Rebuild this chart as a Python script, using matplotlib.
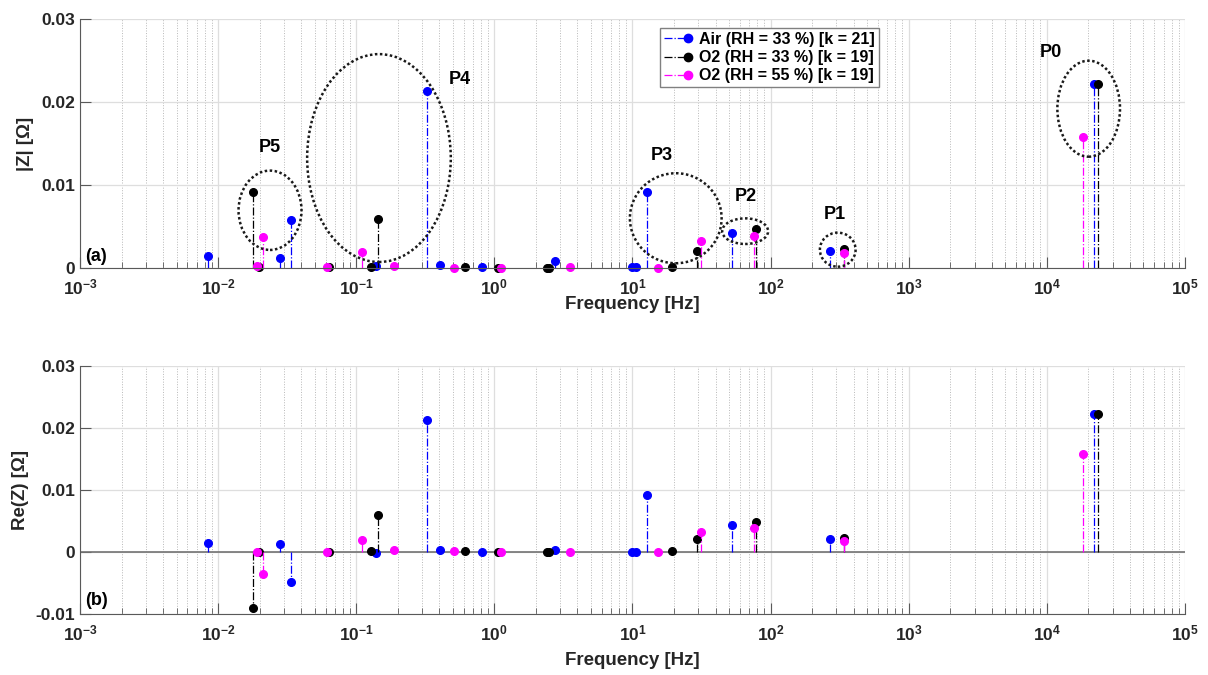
import numpy as np
import matplotlib
matplotlib.use('Agg')
import matplotlib.pyplot as plt
from matplotlib.patches import Ellipse
from matplotlib.lines import Line2D
from matplotlib.legend_handler import HandlerBase
from matplotlib.ticker import LogLocator, FuncFormatter, NullFormatter

plt.rcParams['font.family'] = ['Liberation Sans', 'DejaVu Sans']
plt.rcParams['font.weight'] = 'bold'
plt.rcParams['mathtext.fontset'] = 'custom'
plt.rcParams['mathtext.bf'] = 'Liberation Sans:bold'
plt.rcParams['mathtext.rm'] = 'Liberation Sans:bold'

# Air (RH = 33 %)
f_air = [0.0084, 0.0281, 0.0336, 0.140, 0.327, 0.406, 0.81, 2.74, 9.89, 10.6, 12.7, 52.9, 270, 22130]
absZ_air = [0.0014, 0.0012, 0.0058, 0.0002, 0.0213, 0.0004, 0.0001, 0.0008, 0.0001, 0.0001, 0.0092, 0.0042, 0.0021, 0.0222]
reZ_air = [0.0014, 0.0013, -0.0048, -0.0001, 0.0213, 0.0003, 0.0, 0.0003, 0.0, 0.0, 0.0092, 0.0043, 0.0021, 0.0222]

# O2 (RH = 33 %)
f_o2a = [0.0178, 0.0198, 0.0632, 0.127, 0.143, 0.611, 1.07, 2.39, 2.49, 19.4, 29.2, 78.2, 339, 23400]
absZ_o2a = [0.0092, 0.0001, 0.0001, 0.0001, 0.0059, 0.0001, 0.0, 0.0, 0.0, 0.0001, 0.0021, 0.0047, 0.0023, 0.0222]
reZ_o2a = [-0.0090, 0.0, 0.0, 0.0001, 0.0059, 0.0001, 0.0, 0.0, 0.0, 0.0001, 0.0021, 0.0048, 0.0023, 0.0222]

# O2 (RH = 55 %)
f_o2b = [0.0190, 0.0212, 0.0611, 0.1096, 0.188, 0.513, 1.12, 3.56, 15.2, 31.2, 75.5, 342, 18320]
absZ_o2b = [0.0002, 0.0037, 0.0001, 0.0019, 0.0002, 0.0, 0.0, 0.0001, 0.0, 0.0032, 0.0038, 0.0018, 0.0158]
reZ_o2b = [0.0, -0.0035, 0.0, 0.0020, 0.0003, 0.0001, 0.0, 0.0, 0.0, 0.0033, 0.0038, 0.0018, 0.0158]

labels = ['Air (RH = 33 %) [k = 21]', 'O2 (RH = 33 %) [k = 19]', 'O2 (RH = 55 %) [k = 19]']
colors = ['#0000ff', '#000000', '#ff00ff']
peak_names = ['P5', 'P4', 'P3', 'P2', 'P1', 'P0']

series = [(f_air, absZ_air, reZ_air), (f_o2a, absZ_o2a, reZ_o2a), (f_o2b, absZ_o2b, reZ_o2b)]

fig = plt.figure(figsize=(12.08, 6.75), dpi=100)
ax1 = fig.add_axes([0.0662, 0.603, 0.9147, 0.3684])
ax2 = fig.add_axes([0.0662, 0.0904, 0.9147, 0.3674])


def style(ax, ylim, yticks, ylab, xpad):
    ax.set_xscale('log')
    ax.set_xlim(1e-3, 1e5)
    ax.set_ylim(*ylim)
    ax.set_xticks(10.0 ** np.arange(-3, 6))
    ax.xaxis.set_minor_locator(LogLocator(base=10, subs=np.arange(2, 10), numticks=200))
    ax.xaxis.set_minor_formatter(NullFormatter())
    ax.xaxis.set_major_formatter(FuncFormatter(lambda v, p: r'$\mathbf{10^{%d}}$' % round(np.log10(v))))
    ax.set_yticks(yticks)
    ax.yaxis.set_major_formatter(FuncFormatter(lambda v, p: '0' if abs(v) < 1e-12 else '%g' % v))
    ax.grid(True, which='major', color='0.87', lw=0.9)
    ax.grid(True, which='minor', axis='x', color='0.72', ls=':', lw=0.7)
    ax.set_axisbelow(True)
    for s in ['top', 'right']:
        ax.spines[s].set_visible(False)
    for s in ['left', 'bottom']:
        ax.spines[s].set_color('0.35')
    ax.tick_params(which='both', direction='in', color='0.35', labelcolor='0.15', labelsize=12.5)
    ax.tick_params(axis='x', pad=7)
    ax.tick_params(which='major', length=8)
    ax.tick_params(which='minor', length=4)
    ax.set_xlabel('Frequency [Hz]', fontsize=13.5, fontweight='bold', color='0.15', labelpad=xpad)
    ax.set_ylabel(ylab, fontsize=13.5, fontweight='bold', color='0.15', labelpad=5)


style(ax1, (0, 0.03), [0, 0.01, 0.02, 0.03], '|Z| [Ω]', -1)
style(ax2, (-0.01, 0.03), [-0.01, 0, 0.01, 0.02, 0.03], 'Re(Z) [Ω]', 6)
ax2.axhline(0, color='0.45', lw=1.2, zorder=1)

for (f, a, r), c in zip(series, colors):
    for ax, vals in ((ax1, a), (ax2, r)):
        ml, sl, bl = ax.stem(f, vals, linefmt='-.', markerfmt='o', basefmt=' ')
        sl.set_color(c)
        sl.set_linestyle('-.')
        sl.set_linewidth(0.9)
        ml.set_color(c)
        ml.set_markersize(5.5)
        ml.set_clip_on(False)
        bl.set_visible(False)


class StemHandle(HandlerBase):
    def create_artists(self, legend, orig, xd, yd, w, h, fs, trans):
        y = h / 2 - yd
        ln = Line2D([-xd, w - xd], [y, y], ls='-.', color=orig.get_color(), lw=0.9)
        mk = Line2D([w - xd], [y], marker='o', ls='', color=orig.get_color(), ms=6)
        ln.set_transform(trans)
        mk.set_transform(trans)
        return [ln, mk]


handles = [Line2D([], [], color=c) for c in colors]
ax1.legend(handles, labels, handler_map={Line2D: StemHandle()}, loc='upper left',
           bbox_to_anchor=(0.525, 0.965), fancybox=False, edgecolor='0.5', framealpha=1,
           prop={'weight': 'bold', 'size': 11.5}, handlelength=1.5, borderpad=0.25,
           labelspacing=0.2, handletextpad=0.7, borderaxespad=0)

# peak ellipses (axes fraction: cx, cy, w, h) and labels
ell = [(0.172, 0.232, 0.057, 0.319), (0.2706, 0.442, 0.130, 0.836), (0.5392, 0.200, 0.083, 0.362),
       (0.602, 0.148, 0.0416, 0.103), (0.6858, 0.0736, 0.0323, 0.137), (0.9129, 0.6405, 0.0567, 0.386)]
lab_pos = [(0.172, 0.4825), (0.344, 0.756), (0.5267, 0.454), (0.6027, 0.2855), (0.6833, 0.217), (0.8787, 0.8685)]
for (cx, cy, w, h), (tx, ty), name in zip(ell, lab_pos, peak_names):
    ax1.add_patch(Ellipse((cx, cy), w, h, transform=ax1.transAxes, fill=False,
                          ec='0.1', lw=1.8, ls=(0, (1, 1)), clip_on=False, zorder=5))
    ax1.text(tx, ty, name, transform=ax1.transAxes, ha='center', va='center',
             fontsize=13, fontweight='bold')

ax1.text(0.005, 0.045, '(a)', transform=ax1.transAxes, ha='left', va='center', fontsize=13, fontweight='bold')
ax2.text(0.005, 0.056, '(b)', transform=ax2.transAxes, ha='left', va='center', fontsize=13, fontweight='bold')

fig.savefig('out.png', dpi=100)
